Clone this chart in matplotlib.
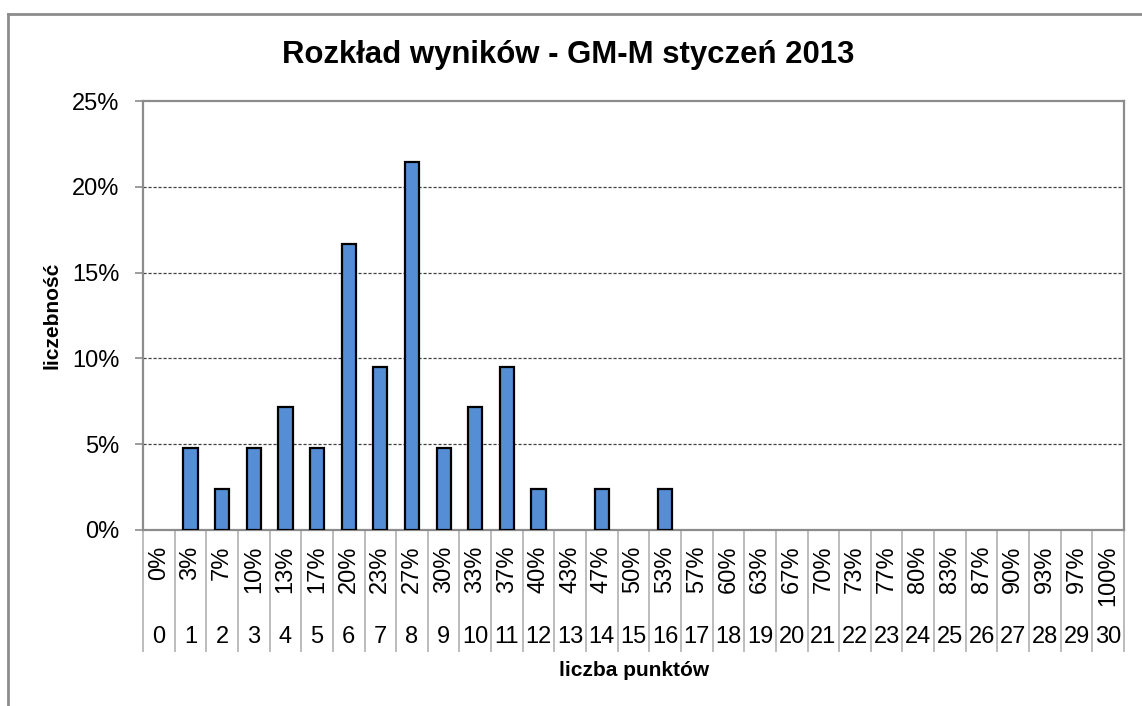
import matplotlib
matplotlib.use("Agg")
import matplotlib.pyplot as plt
from matplotlib.lines import Line2D
from matplotlib.ticker import FixedLocator

plt.rcParams['font.family'] = ['Liberation Sans', 'DejaVu Sans']

# Data
points = list(range(31))
counts = [0, 2, 1, 2, 3, 2, 7, 4, 9, 2, 3, 4, 1, 0, 1, 0, 1,
          0, 0, 0, 0, 0, 0, 0, 0, 0, 0, 0, 0, 0, 0]
total = 42
shares = [c / total for c in counts]
pct_labels = ['0%', '3%', '7%', '10%', '13%', '17%', '20%', '23%', '27%', '30%',
              '33%', '37%', '40%', '43%', '47%', '50%', '53%', '57%', '60%', '63%',
              '67%', '70%', '73%', '77%', '80%', '83%', '87%', '90%', '93%', '97%', '100%']
y_ticks = [0, 0.05, 0.10, 0.15, 0.20, 0.25]
y_labels = ['0%', '5%', '10%', '15%', '20%', '25%']

W, H = 1142, 706
fig = plt.figure(figsize=(W / 100, H / 100), dpi=100)
L, R, T, B = 143, 1124, 101, 530
ax = fig.add_axes([L / W, 1 - B / H, (R - L) / W, (B - T) / H])

grey = '#8c8c8c'
lw = [1.6 if v > 0 else 0 for v in shares]
ax.bar(points, shares, width=0.45, color='#558ed5', edgecolor='black', linewidth=lw, zorder=3)

ax.set_xlim(-0.5, 30.5)
ax.set_ylim(0, 0.25)
ax.set_yticks(y_ticks)
ax.set_yticklabels(y_labels, fontsize=17)
for v in y_ticks[1:-1]:
    ax.axhline(v, color='#404040', linewidth=0.9, linestyle=(0, (2.5, 1.5)), zorder=1)

for s in ax.spines.values():
    s.set_color(grey)
    s.set_linewidth(1.6)

ax.tick_params(axis='y', direction='out', length=6, width=1.2, color=grey, pad=11)

# x axis: rotated percentage labels, separators as long minor ticks
ax.set_xticks(points)
ax.set_xticklabels(pct_labels, rotation=90, fontsize=17, va='top', ha='center')
ax.tick_params(axis='x', which='major', length=0, pad=11)
ax.xaxis.set_minor_locator(FixedLocator([k - 0.5 for k in range(32)]))
ax.tick_params(axis='x', which='minor', length=88, width=1.2, color='#b0b0b0')

# second row: point numbers
tr = ax.get_xaxis_transform()
ypix = (637 - B) / (B - T)
for p in points:
    ax.text(p, -ypix, str(p), transform=tr, ha='center', va='center', fontsize=17)

fig.text(634 / W, 1 - 670 / H, 'liczba punktów', ha='center', va='center',
         fontsize=15, fontweight='bold')
fig.text(52 / W, 1 - 315 / H, 'liczebność', ha='center', va='center', rotation=90,
         fontsize=15, fontweight='bold')
fig.text(568 / W, 1 - 55 / H, 'Rozkład wyników - GM-M styczeń 2013', ha='center',
         va='center', fontsize=22.4, fontweight='bold')

# outer chart frame
fig.add_artist(Line2D([8 / W, 8 / W], [0, 1 - 14 / H], transform=fig.transFigure,
                      color=grey, linewidth=2))
fig.add_artist(Line2D([8 / W, 1], [1 - 14 / H, 1 - 14 / H], transform=fig.transFigure,
                      color=grey, linewidth=2))

fig.savefig('out.png', dpi=100)
